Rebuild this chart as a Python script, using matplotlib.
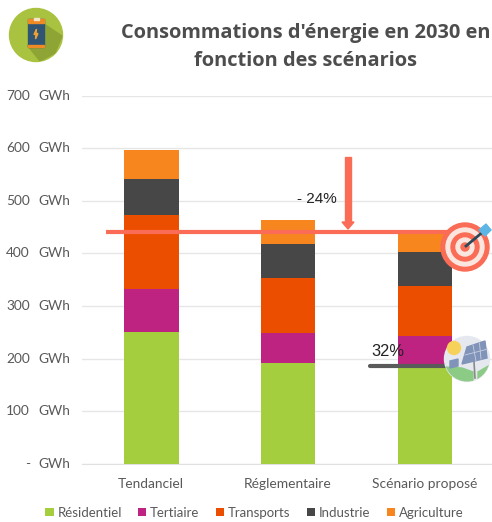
#!/usr/bin/env python
import numpy as np
import matplotlib
matplotlib.use('Agg')
import matplotlib.pyplot as plt
from matplotlib.patches import Circle, Rectangle, Polygon

scenarios = ['Tendanciel', 'Réglementaire', 'Scénario proposé']
residentiel = [251, 192, 188]
tertiaire = [82, 57, 55]
transports = [140, 105, 95]
industrie = [69, 64, 65]
agriculture = [55, 46, 40]

series_names = ['Résidentiel', 'Tertiaire', 'Transports', 'Industrie', 'Agriculture']
series_values = [residentiel, tertiaire, transports, industrie, agriculture]
series_colors = ['#A5CE3F', '#BE2381', '#EC4E00', '#474747', '#F7861E']

yticks = [0, 100, 200, 300, 400, 500, 600, 700]
ylabels = ['-', '100', '200', '300', '400', '500', '600', '700']

W, H = 492, 522
plt.rcParams['font.family'] = ['Lato', 'DejaVu Sans']
fig = plt.figure(figsize=(W / 100, H / 100), dpi=100)

# Main chart, position given in pixels of the image
left, right, top, bottom = 82, 492, 95.5, 464
ax = fig.add_axes([left / W, 1 - bottom / H, (right - left) / W, (bottom - top) / H])
x = np.arange(3)
base = np.zeros(3)
for name, vals, col in zip(series_names, series_values, series_colors):
    ax.bar(x, vals, 0.4, bottom=base, color=col, label=name, zorder=3)
    base = base + np.array(vals)

ax.set_xlim(-0.505, 2.49)
ax.set_ylim(0, 700)
ax.set_yticks(yticks)
ax.set_yticklabels([])
ax.set_xticks(x)
ax.set_xticklabels(scenarios, fontsize=9.9, color='#595959')
ax.tick_params(length=0, pad=10)
ax.grid(axis='y', color='#E6E6E6', lw=1)
ax.set_axisbelow(True)
for s in ['top', 'right', 'left']:
    ax.spines[s].set_visible(False)
ax.spines['bottom'].set_color('#E0E0E0')

# y labels: number and unit are two separate columns
trans = ax.get_yaxis_transform()
for v, lab in zip(yticks, ylabels):
    # x in axes fraction, y in data
    ax.text((70 - left) / (right - left), v, 'GWh', fontsize=9.9, color='#595959',
            ha='right', va='center', transform=trans, clip_on=False)
    ax.text((30 - left) / (right - left), v, lab, fontsize=9.9, color='#595959',
            ha='right', va='center', transform=trans, clip_on=False)

leg = fig.legend(loc='lower center', bbox_to_anchor=(0.517, -0.004), ncol=5, frameon=False, fontsize=9.5,
                 labelcolor='#595959', handlelength=0.62, handleheight=0.62, handletextpad=0.28,
                 columnspacing=1.25, borderaxespad=0.0)

# Overlay in pixel coordinates for title, icons and annotations
ov = fig.add_axes([0, 0, 1, 1], zorder=5)
ov.set_xlim(0, W)
ov.set_ylim(H, 0)
ov.axis('off')

ov.text(305.5, 33, "Consommations d'énergie en 2030 en", fontsize=14.45, fontweight='bold',
        family=['Open Sans'], color='#4D4D4D', ha='center', va='center')
ov.text(305.5, 61, 'fonction des scénarios', fontsize=14.45, fontweight='bold',
        family=['Open Sans'], color='#4D4D4D', ha='center', va='center')

# Battery icon
disc = Circle((36, 35), 26.5, color='#A9C23F', zorder=1)
ov.add_patch(disc)
shadow = Polygon([(44, 24), (62, 36), (55, 53), (40, 61), (28, 46)], color='#8EA535', zorder=2)
ov.add_patch(shadow)
shadow.set_clip_path(disc)
ov.add_patch(Rectangle((28, 19), 16, 28, color='#2F5474', zorder=3))
ov.add_patch(Rectangle((28, 19), 16, 4, color='#F08A24', zorder=4))
ov.add_patch(Rectangle((28, 45), 16, 2, color='#F08A24', zorder=4))
ov.add_patch(Rectangle((33.5, 17.5), 5, 2, color='#F3E6C8', zorder=4))
ov.add_patch(Polygon([(36.5, 29), (34, 34.5), (36, 34.5), (35.5, 39), (38, 33.5), (36, 33.5)],
                     color='#F0A030', zorder=4))

# Target line and arrow
ov.plot([106, 450], [232, 232], color='#FA6C55', lw=3, solid_capstyle='butt', zorder=6)
ov.add_patch(Rectangle((345, 157), 6, 65, color='#FA6C55', zorder=6))
ov.add_patch(Polygon([(342, 222), (354, 222), (348, 229)], color='#FA6C55', zorder=6))
ov.text(317, 199, '- 24%', fontsize=11, family=['Liberation Sans'], color='#222222',
        ha='center', va='center', zorder=7)

# Target icon
for r, col in zip([24, 19, 14, 9, 4], ['#FA6C55', '#FBE6DF', '#FA6C55', '#FBE6DF', '#FA6C55']):
    ov.add_patch(Circle((465, 247), r, color=col, zorder=8))
ov.plot([466, 484], [246, 231], color='#2F4858', lw=2, zorder=9)
ov.add_patch(Polygon([(479, 230), (486, 224), (491, 230), (485, 236)], color='#5DB5E5', zorder=9))

# 32 % marker and solar icon
ov.plot([370, 446], [366, 366], color='#5A5A5A', lw=3, solid_capstyle='round', zorder=6)
ov.text(388, 351, '32%', fontsize=11.8, family=['Liberation Sans'], color='#222222',
        ha='center', va='center', zorder=7)
sky = Circle((467, 359), 22.5, color='#E6E8EF', zorder=8)
ov.add_patch(sky)
ov.add_patch(Circle((454, 348), 6.5, color='#F7D25A', zorder=9))
for pts in [[(446, 367), (462, 368), (473, 372), (473, 384), (446, 384)],
            [(478, 372), (490, 365), (490, 384), (478, 384)]]:
    hill = Polygon(pts, color='#8CCB86', zorder=9)
    ov.add_patch(hill)
    hill.set_clip_path(sky)
ov.add_patch(Polygon([(467, 347), (485, 341), (487, 358), (462, 364)], color='#8093B8', zorder=10))
ov.plot([465, 486], [355, 349.5], color='#C8D0E0', lw=0.6, zorder=11)
ov.plot([473, 476], [345, 361], color='#C8D0E0', lw=0.6, zorder=11)
ov.plot([479.5, 481], [343, 359], color='#C8D0E0', lw=0.6, zorder=11)
ov.plot([474, 475], [362, 378], color='#8A8A8A', lw=1.2, zorder=10)
ov.add_patch(Polygon([(450, 361), (458, 359), (458, 366), (450, 368)], color='#8093B8', zorder=10))

fig.savefig('out.png', dpi=100)
